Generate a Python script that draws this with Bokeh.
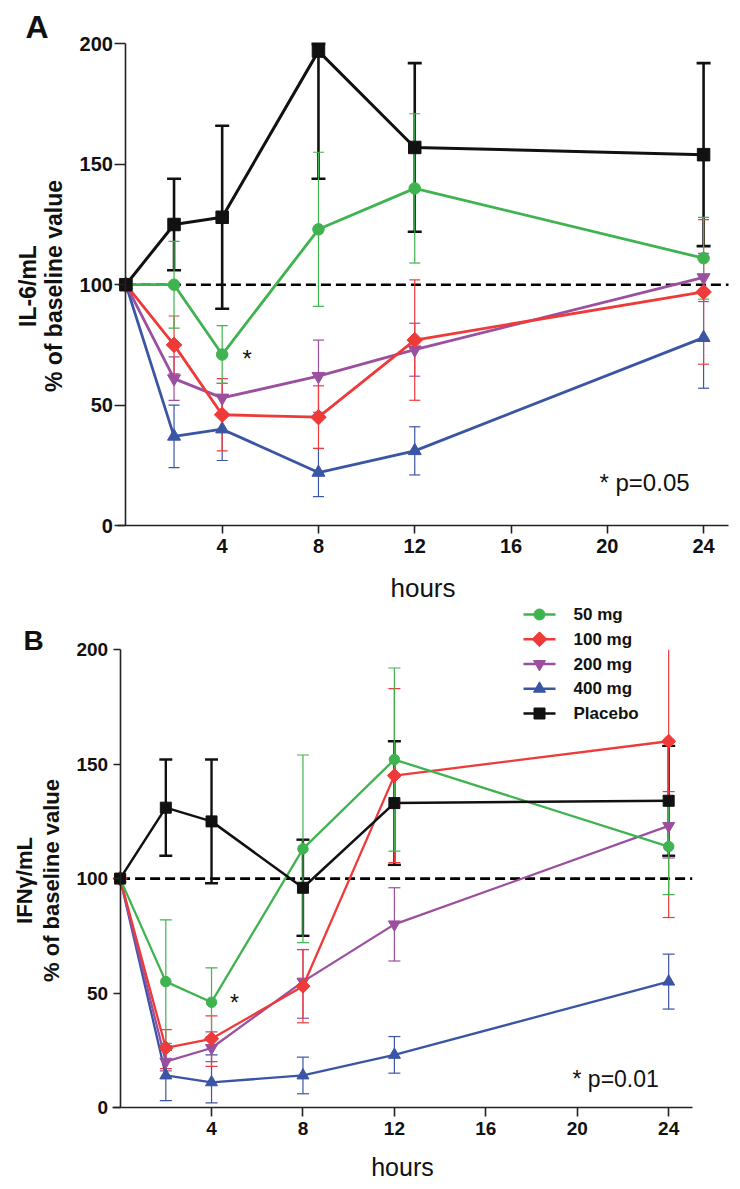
import numpy as np
from bokeh.plotting import figure
from bokeh.models import FixedTicker, Label, Range1d
from bokeh.layouts import column
from bokeh.embed import file_html
from bokeh.resources import INLINE

# ---------------- data ----------------
hours = [0, 2, 4, 8, 12, 24]
x_ticks = [4, 8, 12, 16, 20, 24]
y_ticks = [0, 50, 100, 150, 200]
series_names = ["50 mg", "100 mg", "200 mg", "400 mg", "Placebo"]
BASELINE = 100
Y_MAX = 200

# Panel A: IL-6 (% of baseline), mean with error-bar bounds
il6_50 = [100, 100, 71, 123, 140, 111]
il6_50_hi = [100, 118, 83, 155, 171, 128]
il6_50_lo = [100, 82, 59, 91, 109, 94]
il6_100 = [100, 75, 46, 45, 77, 97]
il6_100_hi = [100, 87, 61, 58, 102, 127]
il6_100_lo = [100, 63, 31, 32, 52, 67]
il6_200 = [100, 61, 53, 62, 73, 103]
il6_200_hi = [100, 70, 59, 77, 84, 113]
il6_200_lo = [100, 52, 47, 47, 62, 93]
il6_400 = [100, 37, 40, 22, 31, 78]
il6_400_hi = [100, 50, 54, 32, 41, 98]
il6_400_lo = [100, 24, 27, 12, 21, 57]
il6_pl = [100, 125, 128, 197, 157, 154]
il6_pl_hi = [100, 144, 166, 200, 192, 192]
il6_pl_lo = [100, 106, 90, 144, 122, 116]

# Panel B: IFN-gamma (% of baseline)
ifn_50 = [100, 55, 46, 113, 152, 114]
ifn_50_hi = [100, 82, 61, 154, 192, 136]
ifn_50_lo = [100, 28, 31, 72, 112, 93]
ifn_100 = [100, 26, 30, 53, 145, 160]
ifn_100_hi = [100, 34, 40, 69, 183, 215]
ifn_100_lo = [100, 17, 18, 37, 107, 83]
ifn_200 = [100, 20, 26, 55, 80, 123]
ifn_200_hi = [100, 27, 33, 69, 96, 138]
ifn_200_lo = [100, 16, 20, 39, 64, 109]
ifn_400 = [100, 14, 11, 14, 23, 55]
ifn_400_hi = [100, 25, 23, 22, 31, 67]
ifn_400_lo = [100, 3, 2, 6, 15, 43]
ifn_pl = [100, 131, 125, 96, 133, 134]
ifn_pl_hi = [100, 152, 152, 117, 160, 158]
ifn_pl_lo = [100, 110, 98, 75, 106, 110]

# ---------------- style ----------------
GREEN = "#3fb34f"
RED = "#ee3a39"
PURPLE = "#9b4f9f"
BLUE = "#3b55a5"
BLACK = "#111111"
FONT = "Liberation Sans"

STYLE = {
    "50 mg": dict(color=GREEN, marker="circle", angle=0.0),
    "100 mg": dict(color=RED, marker="square", angle=np.pi / 4),
    "200 mg": dict(color=PURPLE, marker="inverted_triangle", angle=0.0),
    "400 mg": dict(color=BLUE, marker="triangle", angle=0.0),
    "Placebo": dict(color=BLACK, marker="square", angle=0.0),
}


def make_panel(data, cfg):
    W, H = cfg["width"], cfg["height"]
    x0, sx = cfg["x0_px"], cfg["px_per_h"]
    y0, sy = cfg["y0_px"], cfg["px_per_u"]
    px2x = lambda px: (px - x0) / sx
    px2y = lambda py: (y0 - py) / sy

    p = figure(width=W, height=H,
               x_range=Range1d(px2x(0), px2x(W)), y_range=Range1d(px2y(H), px2y(0)),
               output_backend="svg", toolbar_location=None,
               min_border_left=0, min_border_right=0, min_border_top=0, min_border_bottom=0)
    p.outline_line_color = None
    p.xgrid.visible = False
    p.ygrid.visible = False
    p.background_fill_color = "white"
    p.border_fill_color = "white"

    for ax in (p.xaxis, p.yaxis):
        ax.axis_line_color = "#222222"
        ax.axis_line_width = 1.6
        ax.major_tick_line_color = "#222222"
        ax.major_tick_line_width = 1.6
        ax.minor_tick_line_color = None
        ax.major_tick_in = 0
        ax.major_label_text_font = FONT
        ax.major_label_text_font_style = "bold"
        ax.major_label_text_font_size = cfg["tick_font"]
        ax.major_label_text_color = "#111111"
        ax.fixed_location = 0

    x_axis_start = px2x(cfg["xaxis_left_px"])
    x_axis_end = px2x(cfg["xaxis_right_px"])
    p.xaxis.ticker = FixedTicker(ticks=x_ticks)
    p.yaxis.ticker = FixedTicker(ticks=y_ticks)
    p.yaxis.bounds = (y_ticks[0], y_ticks[-1])
    p.xaxis.bounds = (x_axis_start, x_axis_end)
    p.xaxis.major_tick_out = cfg["xtick"]
    p.yaxis.major_tick_out = cfg["ytick"]
    p.xaxis.major_label_standoff = cfg["xstand"]
    p.yaxis.major_label_standoff = cfg["ystand"]
    p.xaxis.axis_label = "hours"
    p.xaxis.axis_label_text_font = FONT
    p.xaxis.axis_label_text_font_style = "normal"
    p.xaxis.axis_label_text_font_size = cfg["hours_font"]
    p.xaxis.axis_label_text_color = "#111111"
    p.xaxis.axis_label_standoff = cfg["hours_stand"]

    # dashed baseline reference
    p.segment(x0=[0], y0=[BASELINE], x1=[x_axis_end], y1=[BASELINE],
              line_color="black", line_width=2.6, line_dash="10 5")

    # error bars (clipped at the axis top, no cap beyond it)
    for name in ["Placebo", "400 mg", "200 mg", "100 mg", "50 mg"]:
        mean, hi, lo = data[name]
        st = STYLE[name]
        idx = [i for i in range(len(hours)) if hi[i] != lo[i]]
        xs = [hours[i] for i in idx]
        his = [min(hi[i], Y_MAX) for i in idx]
        los = [lo[i] for i in idx]
        cap_x = [hours[i] for i in idx if hi[i] <= Y_MAX] + xs
        cap_y = [hi[i] for i in idx if hi[i] <= Y_MAX] + los
        black = name == "Placebo"
        lw = cfg["err_black_w"] if black else cfg["err_w"]
        cap = cfg["cap_black"] if black else cfg["cap"]
        p.segment(x0=xs, y0=los, x1=xs, y1=his, line_color=st["color"], line_width=lw)
        p.scatter(x=cap_x, y=cap_y, marker="dash", size=cap, line_color=st["color"], line_width=lw)

    # lines + markers
    for name in ["400 mg", "200 mg", "100 mg", "50 mg", "Placebo"]:
        mean, hi, lo = data[name]
        st = STYLE[name]
        black = name == "Placebo"
        p.line(hours, mean, line_color=st["color"],
               line_width=cfg["line_black_w"] if black else cfg["line_w"])
        p.scatter(hours, mean, marker=st["marker"], angle=st["angle"],
                  size=cfg["msize"][name], fill_color=st["color"],
                  line_color=st["color"], line_width=1)

    def label(xpx, ypx, text, size, style="normal", align="left", angle=0.0):
        p.add_layout(Label(x=px2x(xpx), y=px2y(ypx), text=text, angle=angle,
                           text_font=FONT, text_font_style=style, text_font_size=size,
                           text_align=align, text_baseline="middle", text_color="#111111"))

    # panel letter
    lx, ly = cfg["letter_px"]
    label(lx, ly, cfg["letter"], cfg["letter_font"], style="bold")
    # y-axis title (two lines, rotated)
    for txt, cx in zip(cfg["ylabel"], cfg["ylabel_px"]):
        label(cx, cfg["ylabel_cy"], txt, cfg["ylabel_font"], style="bold", align="center",
              angle=np.pi / 2)
    # significance marks
    sxp, syp = cfg["star_px"]
    label(sxp, syp, "*", cfg["p_font"], align="center")
    pxp, pyp = cfg["p_px"]
    label(pxp, pyp, cfg["ptext"], cfg["p_font"])

    # legend (drawn inside the frame)
    if cfg.get("legend"):
        lg = cfg["legend"]
        for i, name in enumerate(series_names):
            st = STYLE[name]
            cy = px2y(lg["y0"] + i * lg["dy"])
            black = name == "Placebo"
            p.segment(x0=[px2x(lg["x_line0"])], y0=[cy], x1=[px2x(lg["x_line1"])], y1=[cy],
                      line_color=st["color"],
                      line_width=cfg["line_black_w"] if black else cfg["line_w"])
            p.scatter(x=[px2x((lg["x_line0"] + lg["x_line1"]) / 2)], y=[cy],
                      marker=st["marker"], angle=st["angle"], size=lg["msize"][name],
                      fill_color=st["color"], line_color=st["color"], line_width=1)
            label(lg["x_text"], lg["y0"] + i * lg["dy"], name, lg["font"], style="bold")
    return p


data_a = {
    "50 mg": (il6_50, il6_50_hi, il6_50_lo),
    "100 mg": (il6_100, il6_100_hi, il6_100_lo),
    "200 mg": (il6_200, il6_200_hi, il6_200_lo),
    "400 mg": (il6_400, il6_400_hi, il6_400_lo),
    "Placebo": (il6_pl, il6_pl_hi, il6_pl_lo),
}
data_b = {
    "50 mg": (ifn_50, ifn_50_hi, ifn_50_lo),
    "100 mg": (ifn_100, ifn_100_hi, ifn_100_lo),
    "200 mg": (ifn_200, ifn_200_hi, ifn_200_lo),
    "400 mg": (ifn_400, ifn_400_hi, ifn_400_lo),
    "Placebo": (ifn_pl, ifn_pl_hi, ifn_pl_lo),
}

cfg_a = dict(width=738, height=602, x0_px=125.4, px_per_h=24.07, y0_px=525, px_per_u=2.408,
             xaxis_left_px=116.7, xaxis_right_px=728,
             tick_font="20px", xtick=8, ytick=11, xstand=5, ystand=2,
             hours_font="26px", hours_stand=17,
             err_w=1.2, err_black_w=2.6, cap=11, cap_black=14,
             line_w=2.8, line_black_w=3.0,
             msize={"50 mg": 11.5, "100 mg": 11, "200 mg": 13, "400 mg": 13, "Placebo": 12.5},
             letter="A", letter_px=(25, 26.5), letter_font="32px",
             ylabel=["IL-6/mL", "% of baseline value"], ylabel_px=[27.5, 53], ylabel_cy=285.5,
             ylabel_font="23px", star_px=(246.6, 357.5), p_px=(599, 481.5), ptext="* p=0.05",
             p_font="24px")

# panel B canvas starts at page y = 602 (all pixel positions below are canvas-relative)
OFF_B = 602
cfg_b = dict(width=738, height=585, x0_px=119.6, px_per_h=22.857, y0_px=1107 - OFF_B, px_per_u=2.289,
             xaxis_left_px=111.7, xaxis_right_px=691.7,
             tick_font="19px", xtick=9, ytick=7, xstand=5, ystand=5,
             hours_font="25px", hours_stand=15,
             err_w=1.2, err_black_w=2.4, cap=12, cap_black=13,
             line_w=2.3, line_black_w=2.5,
             msize={"50 mg": 10.5, "100 mg": 10, "200 mg": 12, "400 mg": 12, "Placebo": 11},
             letter="B", letter_px=(23, 640 - OFF_B), letter_font="28px",
             ylabel=["IFNγ/mL", "% of baseline value"], ylabel_px=[24, 51], ylabel_cy=880 - OFF_B,
             ylabel_font="22px", star_px=(234, 1002.5 - OFF_B), p_px=(572, 1078.3 - OFF_B),
             ptext="* p=0.01", p_font="23px",
             legend=dict(x_line0=523, x_line1=555, x_text=573, y0=614 - OFF_B, dy=24.75,
                         font="17px",
                         msize={"50 mg": 11, "100 mg": 10.5, "200 mg": 12, "400 mg": 12,
                                "Placebo": 11}))

pa = make_panel(data_a, cfg_a)
pb = make_panel(data_b, cfg_b)

layout = column(pa, pb, spacing=0)
open("out.html", "w").write(file_html(layout, INLINE))
